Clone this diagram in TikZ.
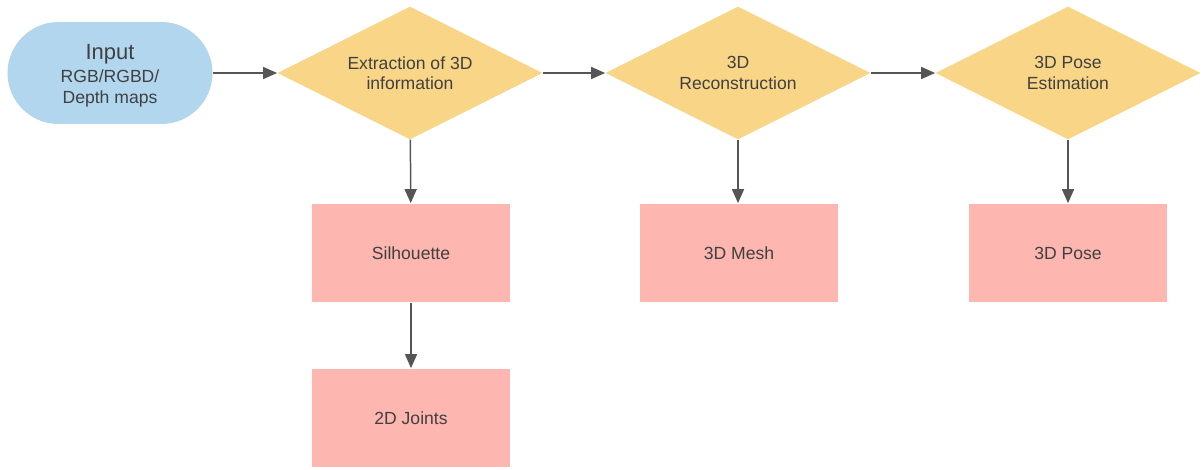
\documentclass[tikz,border=0pt]{standalone}
\usepackage{fontspec}
\setmainfont{Liberation Sans}
\usepackage{tikz}
\usetikzlibrary{positioning}
\usetikzlibrary{shapes.geometric}
\usetikzlibrary{arrows.meta}
\usepackage{xcolor}

\definecolor{inputblue}{HTML}{B1D6EE}
\definecolor{stepyellow}{HTML}{F9D587}
\definecolor{outpink}{HTML}{FDB6B0}
\definecolor{textgray}{HTML}{404040}
\definecolor{linegray}{HTML}{555555}

\tikzset{
	inputnode/.style={rectangle, rounded corners=1.02cm, fill=inputblue, minimum width=4.1cm, minimum height=2.04cm, align=center, text=textgray},
	stepnode/.style={diamond, aspect=2, fill=stepyellow, minimum width=5.3cm, minimum height=2.66cm, inner sep=0pt, align=center, text=textgray, font=\fontsize{10}{11.5}\selectfont},
	outnode/.style={rectangle, fill=outpink, minimum width=3.96cm, minimum height=1.98cm, align=center, text=textgray, font=\fontsize{10}{11.5}\selectfont},
	flow/.style={linegray, line width=0.85pt, -{Triangle[length=0.28cm, width=0.24cm]}}
}

\begin{document}
\begin{tikzpicture}[x=0.02cm, y=-0.02cm]
			    		\useasboundingbox (0,0) rectangle (1204,470);
			    		% top row: input and the three steps
			    		\node[inputnode] (input) at (110, 73) {};
			    		\node[text=textgray, align=center] (inputtext) at (110, 76) {\fontsize{12.5}{14}\selectfont Input\\[1pt]\fontsize{10}{12}\selectfont RGB/RGBD/\\\fontsize{10}{12}\selectfont Depth maps};
			    		\node[stepnode] (extract) at (410, 73) {Extraction of 3D\\information};
			    		\node[stepnode] (recon) at (738, 73) {3D\\Reconstruction};
			    		\node[stepnode] (pose) at (1068, 73) {3D Pose\\Estimation};
			    		% outputs below the steps
			    		\node[outnode] (silh) at (411, 253) {Silhouette};
			    		\node[outnode] (joints) at (411, 418) {2D Joints};
			    		\node[outnode] (mesh) at (739, 253) {3D Mesh};
			    		\node[outnode] (posebox) at (1068, 253) {3D Pose};
			    		% connectors
			    		\draw[flow] (input) -- (extract);
			    		\draw[flow] (extract) -- (recon);
			    		\draw[flow] (recon) -- (pose);
			    		\draw[flow] (extract) -- (silh);
			    		\draw[flow] (silh) -- (joints);
			    		\draw[flow] (recon.south) -- (recon.south |- mesh.north);
			    		\draw[flow] (pose) -- (posebox);
			    	\end{tikzpicture}
\end{document}
